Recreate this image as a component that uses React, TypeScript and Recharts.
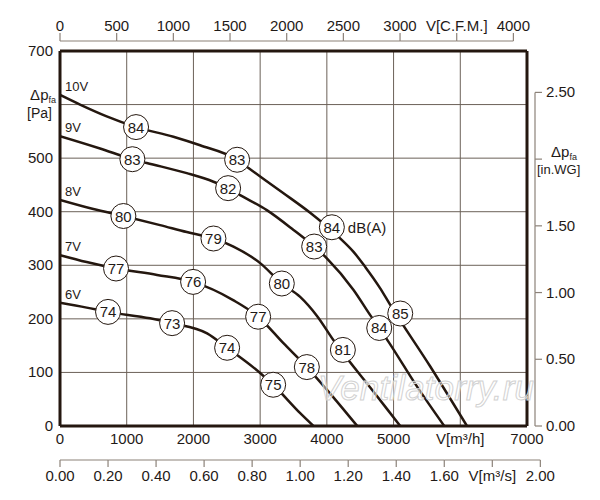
import { ComposedChart, Line, Scatter, XAxis, YAxis, CartesianGrid } from "recharts";

const FONT = "'Liberation Sans', Arial, sans-serif";
const INK = "#24170f";
const GRID = "#6b6158";
const SCALE = "#8c8279";
const TEXT = "#1f1a17";

// chart box and axis bands
const W = 600;
const H = 500;
const LEFT_W = 60;
const TOP_GAP = 10;
const CFM_H = 41;
const RIGHT_GAP = 8;
const INWG_W = 65;
const M3H_H = 34;
const M3S_H = 40;
const PLOT_W = W - LEFT_W - RIGHT_GAP - INWG_W;
const PLOT_H = H - TOP_GAP - CFM_H - M3H_H - M3S_H;

// unit conversions
const FLOW_MAX = 7000; // m3/h
const PA_MAX = 700;
const M3H_PER_CFM = 1.699;
const PA_PER_INWG = 249.089;
const CFM_MAX = FLOW_MAX / M3H_PER_CFM;
const M3S_MAX = FLOW_MAX / 3600;
const INWG_MAX = PA_MAX / PA_PER_INWG;

const flowTicks = [0, 1000, 2000, 3000, 4000, 5000, 6000, 7000];
const paTicks = [0, 100, 200, 300, 400, 500, 600, 700];
const cfmTicks = [0, 500, 1000, 1500, 2000, 2500, 3000, 3500, 4000];
const m3sTicks = [0, 0.2, 0.4, 0.6, 0.8, 1.0, 1.2, 1.4, 1.6, 1.8, 2.0];
const inwgTicks = [0, 0.5, 1.0, 1.5, 2.0, 2.5];

// fan curves: q = m3/h, p = Pa
const curve10V = [
  { q: 0, p: 618 }, { q: 300, p: 600 }, { q: 700, p: 578 }, { q: 1140, p: 558 },
  { q: 1700, p: 540 }, { q: 2100, p: 524 }, { q: 2655, p: 497 }, { q: 2820, p: 482 },
  { q: 3345, p: 435 }, { q: 3750, p: 398 }, { q: 4175, p: 353 }, { q: 4400, p: 325 },
  { q: 4575, p: 297 }, { q: 4800, p: 257 }, { q: 4950, p: 226 }, { q: 5550, p: 111 },
  { q: 6100, p: 0 },
];
const curve9V = [
  { q: 0, p: 541 }, { q: 600, p: 518 }, { q: 1085, p: 498 }, { q: 1300, p: 491 },
  { q: 1900, p: 472 }, { q: 2300, p: 456 }, { q: 2520, p: 444 }, { q: 2700, p: 431 },
  { q: 3100, p: 403 }, { q: 3500, p: 366 }, { q: 3810, p: 335 }, { q: 4000, p: 313 },
  { q: 4400, p: 254 }, { q: 4650, p: 207 }, { q: 4785, p: 183 }, { q: 4925, p: 157 },
  { q: 5355, p: 73 }, { q: 5760, p: 0 },
];
const curve8V = [
  { q: 0, p: 422 }, { q: 500, p: 405 }, { q: 950, p: 392 }, { q: 1500, p: 375 },
  { q: 1900, p: 362 }, { q: 2300, p: 350 }, { q: 2600, p: 335 }, { q: 3000, p: 304 },
  { q: 3325, p: 266 }, { q: 3600, p: 241 }, { q: 3855, p: 205 }, { q: 4100, p: 160 },
  { q: 4700, p: 64 }, { q: 5100, p: 0 },
];
const curve7V = [
  { q: 0, p: 319 }, { q: 400, p: 306 }, { q: 840, p: 294 }, { q: 1455, p: 282 },
  { q: 1995, p: 269 }, { q: 2595, p: 235 }, { q: 2970, p: 204 }, { q: 3345, p: 155 },
  { q: 3700, p: 110 }, { q: 4095, p: 54 }, { q: 4455, p: 0 },
];
const curve6V = [
  { q: 0, p: 230 }, { q: 400, p: 221 }, { q: 720, p: 213 }, { q: 1350, p: 201 },
  { q: 1680, p: 192 }, { q: 2205, p: 173 }, { q: 2505, p: 146 }, { q: 3000, p: 99 },
  { q: 3195, p: 77 }, { q: 3600, p: 24 }, { q: 3800, p: 0 },
];

const curves = [
  { name: "10V", data: curve10V },
  { name: "9V", data: curve9V },
  { name: "8V", data: curve8V },
  { name: "7V", data: curve7V },
  { name: "6V", data: curve6V },
];

// sound level marks, dB(A)
const soundMarks = [
  { q: 1140, p: 558, db: 84 }, { q: 2655, p: 497, db: 83 }, { q: 4075, p: 371, db: 84, note: "dB(A)" }, { q: 5100, p: 210, db: 85 },
  { q: 1085, p: 498, db: 83 }, { q: 2520, p: 444, db: 82 }, { q: 3810, p: 335, db: 83 }, { q: 4785, p: 183, db: 84 },
  { q: 950, p: 392, db: 80 }, { q: 2300, p: 350, db: 79 }, { q: 3325, p: 266, db: 80 }, { q: 4240, p: 142, db: 81 },
  { q: 840, p: 294, db: 77 }, { q: 1995, p: 269, db: 76 }, { q: 2970, p: 204, db: 77 }, { q: 3700, p: 110, db: 78 },
  { q: 720, p: 213, db: 74 }, { q: 1680, p: 192, db: 73 }, { q: 2505, p: 146, db: 74 }, { q: 3195, p: 77, db: 75 },
];

const CFM_STEP = (500 / CFM_MAX) * PLOT_W;
const M3S_STEP = (0.2 / M3S_MAX) * PLOT_W;
const INWG_STEP = (0.5 / INWG_MAX) * PLOT_H;

const txt = { fontFamily: FONT, fill: TEXT };

const FlowTick = ({ x, y, payload }: any) => {
  const label = payload.value === 6000 ? "V[m³/h]" : String(payload.value);
  return (
    <text x={x} y={y + 18} textAnchor="middle" fontSize={15} {...txt}>{label}</text>
  );
};

const M3sTick = ({ x, y, payload, index }: any) => {
  const label = payload.value === 1.8 ? "V[m³/s]" : payload.value.toFixed(2);
  return (
    <g>
      {index > 0 && <line x1={x - M3S_STEP} y1={y} x2={x} y2={y} stroke={SCALE} strokeWidth={1.2} />}
      <line x1={x} y1={y} x2={x} y2={y + 7} stroke={SCALE} strokeWidth={1.2} />
      <text x={x} y={y + 21} textAnchor="middle" fontSize={15} {...txt}>{label}</text>
    </g>
  );
};

const CfmTick = ({ x, y, payload, index }: any) => {
  const label = payload.value === 3500 ? "V[C.F.M.]" : String(payload.value);
  return (
    <g>
      {index > 0 && <line x1={x - CFM_STEP} y1={y} x2={x} y2={y} stroke={SCALE} strokeWidth={1.2} />}
      <line x1={x} y1={y} x2={x} y2={y - 8} stroke={SCALE} strokeWidth={1.2} />
      <text x={x} y={y - 10} textAnchor="middle" fontSize={15} {...txt}>{label}</text>
    </g>
  );
};

const PaTick = ({ x, y, payload }: any) => {
  if (payload.value === 600) {
    return (
      <g>
        <text x={x - 4} y={y - 5} textAnchor="end" fontSize={15} {...txt}>
          Δp<tspan fontSize={9} dy={3}>fa</tspan>
        </text>
        <text x={x - 8} y={y + 13} textAnchor="end" fontSize={14} {...txt}>[Pa]</text>
      </g>
    );
  }
  return (
    <text x={x - 7} y={y + 5} textAnchor="end" fontSize={15} {...txt}>{payload.value}</text>
  );
};

const InwgTick = ({ x, y, payload, index }: any) => {
  const isTitle = payload.value === 2;
  return (
    <g>
      {index > 0 && <line x1={x} y1={y} x2={x} y2={y + INWG_STEP} stroke={SCALE} strokeWidth={1.2} />}
      <line x1={x} y1={y} x2={x + 7} y2={y} stroke={SCALE} strokeWidth={1.2} />
      {isTitle ? (
        <g>
          <text x={x + 16} y={y - 2} fontSize={15} {...txt}>
            Δp<tspan fontSize={9} dy={3}>fa</tspan>
          </text>
          <text x={x + 2} y={y + 15} fontSize={13} {...txt}>[in.WG]</text>
        </g>
      ) : (
        <text x={x + 11} y={y + 5} fontSize={15} {...txt}>{payload.value.toFixed(2)}</text>
      )}
    </g>
  );
};

const SoundMark = (props: any) => {
  const { cx, cy, payload } = props;
  return (
    <g>
      <circle cx={cx} cy={cy} r={12.5} fill="#fff" stroke={INK} strokeWidth={1} />
      <text x={cx} y={cy + 5.5} textAnchor="middle" fontSize={15} {...txt}>{payload.db}</text>
      {payload.note && (
        <text x={cx + 16} y={cy + 5.5} fontSize={15} {...txt}>{payload.note}</text>
      )}
    </g>
  );
};

const voltageDot = (name: string) => (props: any) => {
  if (props.index !== 0) return <g key={`${name}-${props.index}`} />;
  return (
    <text key={`${name}-label`} x={props.cx + 5} y={props.cy - 4} fontSize={13} {...txt}>{name}</text>
  );
};

export default function App() {
  return (
    <div style={{ position: "absolute", left: 0, top: 0, width: W, height: H, background: "#fff" }}>
      <ComposedChart width={W} height={H} data={soundMarks} margin={{ top: 0, right: 0, bottom: 0, left: 0 }}>
        <CartesianGrid xAxisId="m3h" yAxisId="pa" stroke={GRID} strokeWidth={1} />

        <XAxis xAxisId="m3h" dataKey="q" type="number" domain={[0, FLOW_MAX]} ticks={flowTicks}
          allowDataOverflow interval={0} height={M3H_H} tickSize={0} tickMargin={0} tickLine={false}
          axisLine={{ stroke: INK, strokeWidth: 3 }} tick={<FlowTick />} />
        <XAxis xAxisId="m3s" dataKey="q" type="number" domain={[0, M3S_MAX]} ticks={m3sTicks}
          allowDataOverflow interval={0} height={M3S_H} tickSize={0} tickMargin={0} tickLine={false}
          axisLine={false} tick={<M3sTick />} />
        <XAxis xAxisId="aTopEdge" dataKey="q" orientation="top" type="number" domain={[0, FLOW_MAX]}
          allowDataOverflow height={TOP_GAP} tick={false} tickLine={false}
          axisLine={{ stroke: INK, strokeWidth: 3 }} />
        <XAxis xAxisId="cfm" dataKey="q" orientation="top" type="number" domain={[0, CFM_MAX]} ticks={cfmTicks}
          allowDataOverflow interval={0} height={CFM_H} tickSize={0} tickMargin={0} tickLine={false}
          axisLine={false} tick={<CfmTick />} />

        <YAxis yAxisId="pa" type="number" domain={[0, PA_MAX]} ticks={paTicks} allowDataOverflow
          interval={0} width={LEFT_W} tickSize={0} tickMargin={0} tickLine={false}
          axisLine={{ stroke: INK, strokeWidth: 3 }} tick={<PaTick />} />
        <YAxis yAxisId="edgeRight" orientation="right" type="number" domain={[0, PA_MAX]}
          allowDataOverflow width={RIGHT_GAP} tick={false} tickLine={false}
          axisLine={{ stroke: INK, strokeWidth: 3 }} />
        <YAxis yAxisId="inwg" orientation="right" type="number" domain={[0, INWG_MAX]} ticks={inwgTicks}
          allowDataOverflow interval={0} width={INWG_W} tickSize={0} tickMargin={0} tickLine={false}
          axisLine={false} tick={<InwgTick />} />

        {curves.map((c) => (
          <Line key={c.name} data={c.data} dataKey="p" xAxisId="m3h" yAxisId="pa" type="monotone"
            stroke={INK} strokeWidth={2.5} dot={voltageDot(c.name)} activeDot={false}
            isAnimationActive={false} />
        ))}

        <Scatter dataKey="p" xAxisId="m3h" yAxisId="pa"
          shape={(p: any) => <SoundMark {...p} />} isAnimationActive={false} />
      </ComposedChart>
      <svg width={W} height={H} style={{ position: "absolute", left: 0, top: 0, pointerEvents: "none" }}>
        <text x={318} y={400} fontSize={35} fontStyle="italic" fontFamily={FONT}
          fill="rgba(255,255,255,0.45)" stroke="#d2d2d2" strokeWidth={1} textLength={216}>
          Ventilatorry.ru
        </text>
      </svg>
    </div>
  );
}
